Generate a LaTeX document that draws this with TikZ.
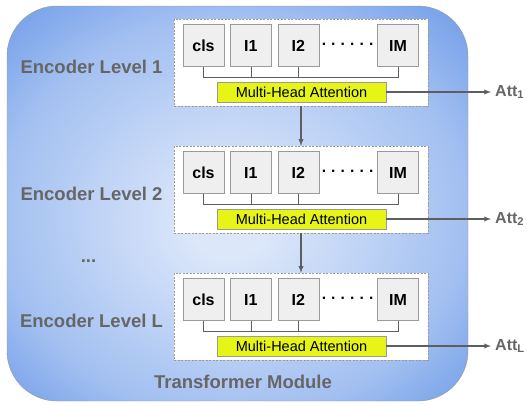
\documentclass[tikz,border=0pt]{standalone}
\usepackage{fontspec}
\setmainfont{Liberation Sans}
\usepackage{tikz}
\usetikzlibrary{arrows}
\usetikzlibrary{shapes,positioning,calc}
\definecolor{txtgrey}{HTML}{666666}
\definecolor{linegrey}{HTML}{5E5E5E}
\definecolor{tokfill}{HTML}{EFEFEF}
\definecolor{tokline}{HTML}{9A9A9A}
\definecolor{mhafill}{HTML}{E6F516}
\definecolor{bgin}{HTML}{DCE7FA}
\definecolor{bgmid}{HTML}{A3C0F1}
\definecolor{bgout}{HTML}{6B99E7}
\pgfdeclareradialshading{modbg}{\pgfpoint{-1bp}{-3bp}}{color(0bp)=(bgin); color(4bp)=(bgin); color(25bp)=(bgmid); color(37bp)=(bgout); color(50bp)=(bgout)}

\begin{document}
\begin{tikzpicture}[>=latex, x=1pt, y=-1pt,
		token/.style={draw=tokline, fill=tokfill, minimum width=41pt, minimum height=42pt, inner sep=0pt, font=\fontsize{16}{17}\selectfont\bfseries},
		encbox/.style={draw=tokline, fill=white, dash pattern=on 2pt off 1.5pt, minimum width=254pt, minimum height=87pt, inner sep=0pt},
		mha/.style={draw=tokline, fill=mhafill, minimum width=169pt, minimum height=20pt, inner sep=0pt, font=\fontsize{14.5}{15}\selectfont},
		lvl/.style={text=txtgrey, font=\fontsize{18.5}{19}\selectfont\bfseries},
		att/.style={text=txtgrey, inner sep=4pt, anchor=west, font=\fontsize{16}{17}\selectfont\bfseries},
		flow/.style={draw=linegrey, line width=1.3pt},
		bracket/.style={draw=linegrey, line width=0.7pt}]
				\useasboundingbox (0,0) rectangle (527,405);
				\shadedraw[shading=modbg, draw=tokline, rounded corners=50pt] (7,6) rectangle (468,401);
				\foreach \i/\lab in {1/1,2/2,3/L} {
					\pgfmathsetmacro{\T}{19+127*(\i-1)}
					\node[encbox] (enc\i) at (301,\T+43.5) {};
					\node[token] (cls\i) at (203.5,\T+26.5) {cls};
					\node[token, right=6pt of cls\i] (Ia\i) {I1};
					\node[token, right=6pt of Ia\i] (Ib\i) {I2};
					\node[token] (IM\i) at (398,\T+26.5) {IM};
					\node[font=\fontsize{15.5}{16}\selectfont\bfseries] (dots\i) at (348,\T+27.5) {·\ ·\ ·\ ·\ ·\ ·};
					\coordinate (br\i) at (0,\T+58);
					\draw[bracket] (cls\i.south) -- (cls\i.south |- br\i) -| (IM\i.south);
					\draw[bracket] (Ia\i.south) -- (Ia\i.south |- br\i);
					\draw[bracket] (Ib\i.south) -- (Ib\i.south |- br\i);
					\node[mha] (mha\i) at (301.5,\T+73) {Multi-Head Attention};
					\node[lvl] (lvl\i) at (91.5,\T+47.5) {Encoder Level \lab};
					\node[att] (att\i) at (491,\T+73) {Att\textsubscript{\lab}};
					\draw[flow, ->] (mha\i) -- (att\i);
				}
				\draw[flow, ->] (enc1) -- (enc2);
				\draw[flow, ->] (enc2) -- (enc3);
				\node[lvl] (more) at (88.5,261) {...};
				\node[lvl] (title) at (243,382) {Transformer Module};
			\end{tikzpicture}
\end{document}
